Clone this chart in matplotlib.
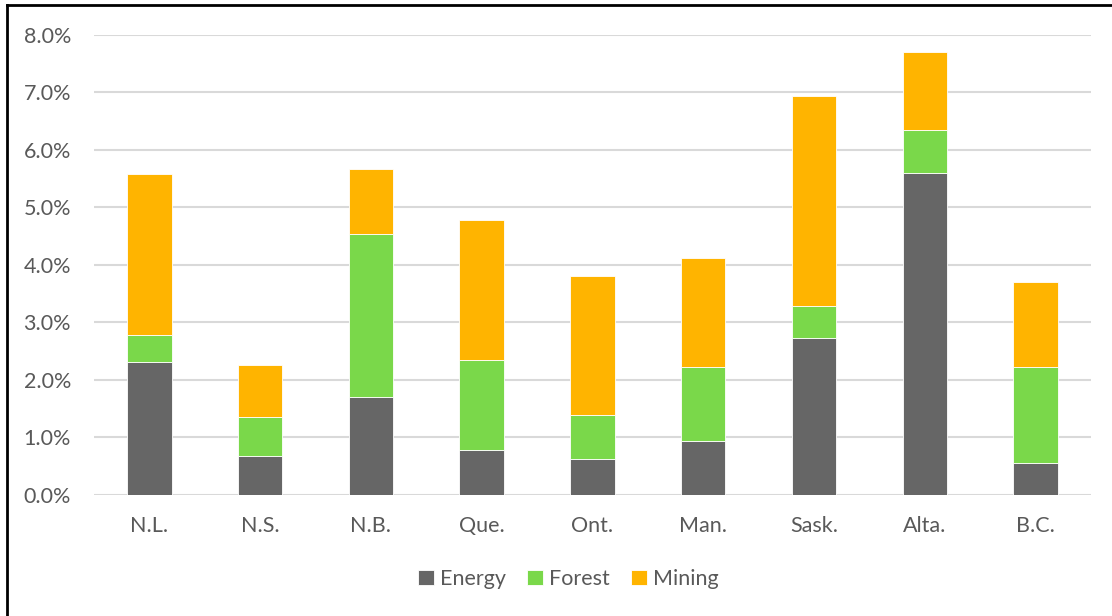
import numpy as np
import matplotlib.pyplot as plt
from matplotlib.lines import Line2D
from matplotlib.ticker import FuncFormatter

# Share of provincial GDP by resource sector (%)
provinces = ['N.L.', 'N.S.', 'N.B.', 'Que.', 'Ont.', 'Man.', 'Sask.', 'Alta.', 'B.C.']
energy = [2.31, 0.67, 1.70, 0.77, 0.63, 0.94, 2.73, 5.60, 0.55]
forest = [0.46, 0.68, 2.84, 1.57, 0.75, 1.28, 0.56, 0.74, 1.68]
mining = [2.80, 0.90, 1.13, 2.44, 2.42, 1.89, 3.65, 1.36, 1.47]

colors = {'Energy': '#666666', 'Forest': '#7AD84A', 'Mining': '#FFB400'}

plt.rcParams['font.family'] = ['Lato', 'DejaVu Sans']

fig = plt.figure(figsize=(11.12, 6.16), dpi=100)
ax = fig.add_axes([0.0845, 0.1968, 0.8965, 0.7469])

x = np.arange(len(provinces))
width = 0.4
bottom = np.zeros(len(provinces))
for name, vals in [('Energy', energy), ('Forest', forest), ('Mining', mining)]:
    ax.bar(x, vals, width, bottom=bottom, color=colors[name], label=name,
           edgecolor='white', linewidth=0.6, zorder=3)
    bottom += np.array(vals)

ax.set_xlim(-0.5, len(provinces) - 0.5)
ax.set_ylim(0, 8)
ax.set_yticks(np.arange(0, 8.1, 1))
ax.yaxis.set_major_formatter(FuncFormatter(lambda v, _: f'{v:.1f}%'))
ax.set_xticks(x)
ax.set_xticklabels(provinces)
ax.grid(axis='y', color='#D9D9D9', linewidth=1.5, zorder=0)
ax.tick_params(length=0, labelsize=15.5, labelcolor='#595959')
ax.tick_params(axis='x', pad=15)
ax.tick_params(axis='y', pad=16.5)
for side in ['top', 'right', 'left', 'bottom']:
    ax.spines[side].set_visible(False)

fig.legend(loc='center', bbox_to_anchor=(0.511, 0.06), ncol=3, frameon=False,
           fontsize=15.5, labelcolor='#595959', handlelength=0.75,
           handleheight=0.75, handletextpad=0.25, columnspacing=1.0)

# outer frame, left and top edges only
fig.add_artist(Line2D([0.0063, 0.0063], [0, 0.992], color='black', linewidth=2,
                      transform=fig.transFigure))
fig.add_artist(Line2D([0.0063, 1], [0.992, 0.992], color='black', linewidth=2,
                      transform=fig.transFigure))

fig.savefig('out.png', dpi=100)
